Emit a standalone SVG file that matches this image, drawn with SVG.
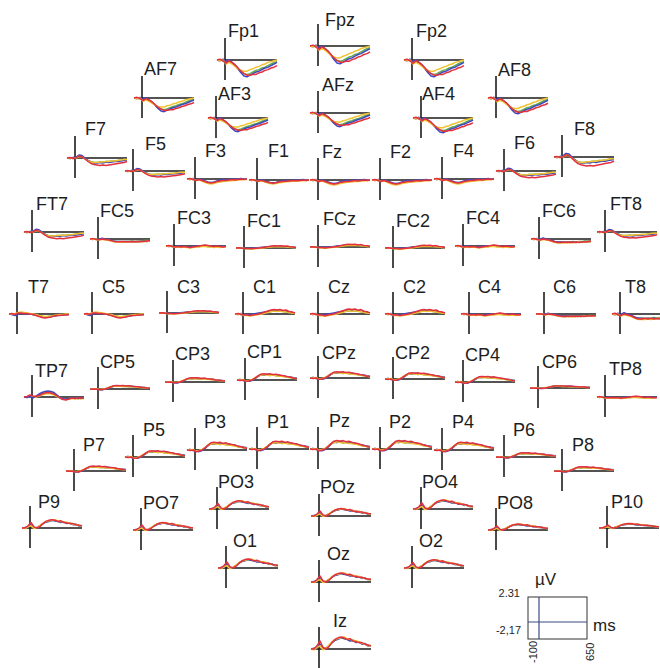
<svg xmlns="http://www.w3.org/2000/svg" xmlns:xlink="http://www.w3.org/1999/xlink" width="660" height="668" viewBox="0 0 660 668">
<style>
text{font-family:"Liberation Sans",Arial,sans-serif;font-size:18px;fill:#1e1e1e}
.v{stroke:#4a4a4a;stroke-width:2}
.h{stroke:#1a1a1a;stroke-width:1.3}
polyline{fill:none;stroke-width:1.5;stroke-linejoin:round;vector-effect:non-scaling-stroke}
.b{stroke:#4048c0}.r{stroke:#e2303e}.y{stroke:#f0c232}.g{stroke:#62ac4c}
.sm{font-size:11px}
</style>
<defs>
<g id="ax"><line class="v" x1="0" y1="-22" x2="0" y2="20"/><line class="h" x1="-8" y1="0" x2="52" y2="0"/></g>
<g id="neg">
<polyline class="g" points="-8,0 -5,0 -2,0.5 1,1.5 4,0.5 7,2 10,3.5 13,5.5 16,7.5 19,8.5 22,9 25,8.5 28,7.5 31,6.5 34,6 37,5 40,4.5 43,3.5 46,2.5 49,1.5 52,1"/>
<polyline class="b" points="-8,0 -5,0.5 -2,-0.5 1,1 4,0 7,1.5 10,3 13,5.5 16,8 19,10 22,10.5 25,9.5 28,8.5 31,7.5 34,7 37,6 40,5 43,4.5 46,3.5 49,2.5 52,1.5"/>
<polyline class="y" points="-8,0 -5,0.5 -2,0 1,2.5 4,1.5 7,2.5 10,4 13,5.5 16,6.5 19,7 22,7 25,6 28,5.5 31,4.5 34,4 37,3 40,2.5 43,1.5 46,1 49,0.5 52,0"/>
<polyline class="r" points="-8,0 -5,-0.5 -2,0.5 1,2 4,0.5 7,1.5 10,3 13,5 16,7 19,8.5 22,9.5 25,9.5 28,9 31,9 34,8 37,7.5 40,6.5 43,6 46,5 49,4.5 52,3.5"/>
</g>
<g id="negL">
<polyline class="g" points="-8,0 -5,0.5 -2,0 1,0.5 4,-2 7,-1.5 10,0.5 13,2.5 16,4 19,4.5 22,4.5 25,4 28,4 31,3.5 34,3.5 37,3 40,3 43,2.5 46,2 49,1.5 52,1.5"/>
<polyline class="b" points="-8,0 -5,0.5 -2,-0.5 1,-1 4,-3 7,-2.5 10,0 13,2.5 16,4 19,5 22,5 25,4.5 28,5 31,4 34,4.5 37,4 40,3.5 43,3.5 46,3 49,2.5 52,2"/>
<polyline class="y" points="-8,0 -5,0 -2,0.5 1,0 4,-1.5 7,-1 10,1 13,3 16,4 19,4.5 22,4.5 25,4 28,4 31,3.5 34,3.5 37,3 40,3 43,2.5 46,2 49,1.5 52,1.5"/>
<polyline class="r" points="-8,0 -5,-0.5 -2,0.5 1,0 4,-2 7,-1 10,1 13,3.5 16,5.5 19,6.5 22,7 25,7.5 28,7 31,7.5 34,7 37,6.5 40,6 43,5.5 46,5 49,4.5 52,3.5"/>
</g>
<g id="negS">
<polyline class="g" points="-8,0 -5,0 -2,0.5 1,1 4,0.5 7,1.5 10,2.5 13,3.5 16,4 19,3.5 22,2.5 25,2 28,1.5 31,1.5 34,1 37,1 40,0.5 43,0.5 46,0 49,0 52,0"/>
<polyline class="b" points="-8,0 -5,0.5 -2,-0.5 1,1 4,0 7,1 10,2 13,3 16,3.5 19,3 22,2 25,1 28,0.5 31,1 34,0.5 37,0 40,0.5 43,0 46,-0.5 49,0 52,0"/>
<polyline class="y" points="-8,0 -5,0.5 -2,0 1,1.5 4,1 7,2 10,3.5 13,4.5 16,5 19,4.5 22,3.5 25,3 28,2.5 31,2 34,2 37,1.5 40,1.5 43,1 46,1 49,0.5 52,0.5"/>
<polyline class="r" points="-8,0 -5,-0.5 -2,0.5 1,1.5 4,0.5 7,1.5 10,2.5 13,3.5 16,4 19,3.5 22,2.5 25,2 28,1.5 31,1.5 34,1 37,0.5 40,1 43,0.5 46,0 49,0.5 52,0"/>
</g>
<g id="flat">
<polyline class="g" points="-8,0 -5,0 -2,0.5 1,1 4,0.5 7,1 10,1 13,1 16,1.5 19,1 22,0.5 25,0.5 28,0 31,0 34,0.5 37,0.5 40,1 43,0.5 46,1 49,0.5 52,0.5"/>
<polyline class="b" points="-8,0 -5,0.5 -2,-0.5 1,1 4,0 7,0.5 10,1 13,0.5 16,1 19,0.5 22,0 25,0.5 28,0 31,-0.5 34,0 37,0.5 40,0 43,0.5 46,0 49,0.5 52,0"/>
<polyline class="y" points="-8,0 -5,0.5 -2,0 1,1.5 4,1 7,1.5 10,1 13,1.5 16,2 19,1.5 22,1 25,1 28,0.5 31,0.5 34,1 37,1 40,1.5 43,1 46,1.5 49,1 52,1"/>
<polyline class="r" points="-8,0 -5,-0.5 -2,0.5 1,1 4,0.5 7,1 10,0.5 13,1 16,1.5 19,1 22,0.5 25,0 28,-0.5 31,-1 34,-0.5 37,0 40,0.5 43,0 46,0.5 49,1 52,0.5"/>
</g>
<g id="flatDip">
<polyline class="g" points="-8,0 -5,0 -2,0.5 1,0.5 4,-0.5 7,0.5 10,1 13,2 16,3 19,3 22,3 25,3 28,3 31,3 34,2.5 37,3 40,2.5 43,2.5 46,2 49,2 52,2"/>
<polyline class="b" points="-8,0 -5,0.5 -2,-0.5 1,0.5 4,-1 7,0 10,0.5 13,1.5 16,2.5 19,3 22,3 25,3.5 28,3 31,3.5 34,3 37,3.5 40,3 43,3 46,2.5 49,3 52,2.5"/>
<polyline class="y" points="-8,0 -5,0.5 -2,0 1,1.5 4,0.5 7,1 10,1.5 13,2.5 16,3.5 19,4 22,4 25,4 28,3.5 31,4 34,3.5 37,3.5 40,3 43,3.5 46,3 49,3 52,2.5"/>
<polyline class="r" points="-8,0 -5,-0.5 -2,0.5 1,1 4,0 7,0.5 10,1 13,2 16,3 19,3.5 22,3.5 25,3 28,3.5 31,3 34,3.5 37,3 40,3.5 43,3 46,3 49,2.5 52,2"/>
</g>
<g id="posC">
<polyline class="g" points="-8,0 -5,0 -2,0.5 1,1 4,1 7,1 10,0.5 13,0 16,-0.5 19,-1 22,-1.5 25,-2 28,-2.5 31,-3 34,-3 37,-3 40,-2.5 43,-2 46,-1.5 49,-1 52,-0.5"/>
<polyline class="b" points="-8,0 -5,0.5 -2,-0.5 1,1 4,0.5 7,0.5 10,0 13,-0.5 16,-1 19,-1.5 22,-2 25,-2.5 28,-3 31,-3.5 34,-3 37,-3.5 40,-3 43,-2.5 46,-2 49,-1.5 52,-1"/>
<polyline class="y" points="-8,0 -5,0.5 -2,0 1,1.5 4,1.5 7,2 10,1.5 13,1 16,0.5 19,0 22,-1 25,-1.5 28,-2.5 31,-3 34,-2.5 37,-3 40,-2.5 43,-2 46,-1.5 49,-1 52,-0.5"/>
<polyline class="r" points="-8,0 -5,-0.5 -2,0.5 1,1 4,1 7,1.5 10,1 13,0.5 16,0 19,-1 22,-2 25,-3 28,-4 31,-4.5 34,-4 37,-4.5 40,-3.5 43,-4 46,-2.5 49,-2 52,-1"/>
</g>
<g id="tDip">
<polyline class="g" points="-8,0 -5,0.5 -2,0 1,-1 4,-1 7,-1 10,-0.5 13,0 16,0.5 19,1 22,2 25,2.5 28,3 31,2.5 34,2 37,1.5 40,1.5 43,1 46,0.5 49,0.5 52,0.5"/>
<polyline class="b" points="-8,0 -5,0.5 -2,1.5 1,0 4,-0.5 7,-0.5 10,0 13,0 16,0.5 19,1 22,2 25,2.5 28,3 31,3 34,2.5 37,2 40,1.5 43,1 46,1 49,0.5 52,0.5"/>
<polyline class="y" points="-8,0 -5,0 -2,-0.5 1,-1.5 4,-2 7,-1.5 10,-1 13,-0.5 16,0 19,0.5 22,1.5 25,2 28,2.5 31,2.5 34,2 37,1.5 40,1 43,0.5 46,0.5 49,0 52,0"/>
<polyline class="r" points="-8,0 -5,-0.5 -2,0.5 1,-1 4,-1 7,-0.5 10,-0.5 13,0 16,0.5 19,1.5 22,2.5 25,3.5 28,4 31,3.5 34,3 37,2 40,1.5 43,1.5 46,1 49,1 52,0.5"/>
</g>
<g id="tp">
<polyline class="g" points="-8,0 -5,0.5 -2,-0.5 1,0.5 4,0 7,-1.5 10,-3 13,-4 16,-4.5 19,-4 22,-3 25,-1 28,0.5 31,2 34,2 37,1.5 40,1 43,1 46,1 49,1 52,1"/>
<polyline class="y" points="-8,0 -5,0 -2,-1 1,0 4,0 7,-1 10,-2 13,-3 16,-3.5 19,-3 22,-2 25,-0.5 28,1 31,2 34,2.5 37,2 40,1.5 43,2 46,1.5 49,2 52,1.5"/>
<polyline class="b" points="-8,0 -5,0.5 -2,-0.5 1,1 4,-1 7,-3 10,-4.5 13,-5.5 16,-6 19,-5.5 22,-4.5 25,-2 28,0.5 31,2 34,2 37,1.5 40,1 43,1 46,1.5 49,1 52,1"/>
<polyline class="r" points="-8,0 -5,-0.5 -2,-2 1,-1 4,-0.5 7,-1.5 10,-3 13,-4 16,-4.5 19,-4 22,-3 25,-1 28,1 31,2.5 34,3 37,2 40,1 43,1.5 46,1 49,1 52,0.5"/>
</g>
<g id="pos">
<polyline class="g" points="-8,0 -5,-0.5 -2,0 1,1 4,1 7,0 10,-2 13,-4 16,-5.5 19,-5.5 22,-6 25,-5 28,-5.5 31,-5 34,-4.5 37,-4.5 40,-4 43,-3 46,-2.5 49,-2 52,-1.5"/>
<polyline class="b" points="-8,0 -5,-0.5 -2,0.5 1,1 4,1.5 7,0.5 10,-1.5 13,-4 16,-6 19,-5.5 22,-6.5 25,-5.5 28,-6 31,-5 34,-5.5 37,-4.5 40,-4 43,-3.5 46,-3 49,-2.5 52,-2"/>
<polyline class="y" points="-8,0 -5,0 -2,-0.5 1,1 4,0.5 7,-0.5 10,-2.5 13,-4.5 16,-5.5 19,-6 22,-5.5 25,-5 28,-5.5 31,-4.5 34,-4.5 37,-4 40,-3.5 43,-3 46,-2.5 49,-2 52,-1.5"/>
<polyline class="r" points="-8,0 -5,0.5 -2,0 1,1.5 4,1 7,0 10,-2 13,-4.5 16,-6.5 19,-7 22,-6.5 25,-7 28,-6 31,-6.5 34,-5.5 37,-5 40,-4.5 43,-3.5 46,-3 49,-2 52,-1.5"/>
</g>
<g id="po">
<polyline class="g" points="-8,0 -5,0 -2,-1 1,-2.5 4,0 7,-0.5 10,-2 13,-4 16,-5.5 19,-6.5 22,-7 25,-6.5 28,-6 31,-5.5 34,-5 37,-5 40,-4 43,-3.5 46,-3 49,-2 52,-2"/>
<polyline class="b" points="-8,0 -5,-0.5 -2,-1 1,-3 4,0 7,-0.5 10,-2 13,-4 16,-5.5 19,-6 22,-7 25,-6.5 28,-6 31,-5 34,-5.5 37,-4 40,-4.5 43,-3 46,-3.5 49,-2 52,-2"/>
<polyline class="y" points="-8,0 -5,0.5 -2,-1 1,-2 4,0.5 7,-0.5 10,-2.5 13,-4.5 16,-6 19,-6.5 22,-7 25,-7.5 28,-6.5 31,-6 34,-5.5 37,-5 40,-4.5 43,-3.5 46,-3 49,-2.5 52,-1.5"/>
<polyline class="r" points="-8,0 -5,0 -2,-2 1,-5 4,-1 7,0 10,-1.5 13,-4 16,-6 19,-7 22,-7.5 25,-7 28,-6 31,-6.5 34,-5 37,-4.5 40,-4 43,-4 46,-3 49,-2.5 52,-2"/>
</g>
</defs>
<g id="nodes">
<g id="Fp1" transform="translate(225,60)"><use href="#ax"/><use href="#neg" transform="scale(1,1.6)"/><text x="3" y="-23">Fp1</text></g>
<g id="Fpz" transform="translate(318,46)"><use href="#ax"/><use href="#neg" transform="scale(1,1.7)"/><text x="7" y="-20">Fpz</text></g>
<g id="Fp2" transform="translate(412,60)"><use href="#ax"/><use href="#neg" transform="scale(1,1.6)"/><text x="4" y="-23">Fp2</text></g>
<g id="AF7" transform="translate(142,98)"><use href="#ax"/><use href="#neg" transform="scale(1,1.3)"/><text x="2" y="-23">AF7</text></g>
<g id="AF3" transform="translate(216,118)"><use href="#ax"/><use href="#neg" transform="scale(1,1.3)"/><text x="2" y="-18">AF3</text></g>
<g id="AFz" transform="translate(318,113)"><use href="#ax"/><use href="#neg" transform="scale(1,1.3)"/><text x="4" y="-22">AFz</text></g>
<g id="AF4" transform="translate(421,118)"><use href="#ax"/><use href="#neg" transform="scale(1,1.4)"/><text x="1" y="-18">AF4</text></g>
<g id="AF8" transform="translate(496,98)"><use href="#ax"/><use href="#neg" transform="scale(1,1.5)"/><text x="2" y="-22">AF8</text></g>
<g id="F7" transform="translate(75,158)"><use href="#ax"/><use href="#negL"/><text x="10" y="-23">F7</text></g>
<g id="F5" transform="translate(133,171)"><use href="#ax"/><use href="#negL" transform="scale(1,0.8)"/><text x="12" y="-21">F5</text></g>
<g id="F3" transform="translate(195,179)"><use href="#ax"/><use href="#negS"/><text x="10" y="-22">F3</text></g>
<g id="F1" transform="translate(257,180)"><use href="#ax"/><use href="#negS" transform="scale(1,0.8)"/><text x="11" y="-23">F1</text></g>
<g id="Fz" transform="translate(318,180)"><use href="#ax"/><use href="#negS"/><text x="4" y="-22">Fz</text></g>
<g id="F2" transform="translate(380,180)"><use href="#ax"/><use href="#negS"/><text x="10" y="-22">F2</text></g>
<g id="F4" transform="translate(442,179)"><use href="#ax"/><use href="#negS"/><text x="11" y="-22">F4</text></g>
<g id="F6" transform="translate(504,171)"><use href="#ax"/><use href="#negL" transform="scale(1,0.9)"/><text x="10" y="-22">F6</text></g>
<g id="F8" transform="translate(562,157)"><use href="#ax"/><use href="#negL" transform="scale(1,1.2)"/><text x="12" y="-22">F8</text></g>
<g id="FT7" transform="translate(32,232)"><use href="#ax"/><use href="#negL" transform="scale(1,0.9)"/><text x="4" y="-22">FT7</text></g>
<g id="FC5" transform="translate(98,239)"><use href="#ax"/><use href="#flatDip" transform="scale(1,0.8)"/><text x="2" y="-22">FC5</text></g>
<g id="FC3" transform="translate(174,246)"><use href="#ax"/><use href="#flat"/><text x="3" y="-22">FC3</text></g>
<g id="FC1" transform="translate(244,248)"><use href="#ax"/><use href="#posC" transform="scale(1,0.5)"/><text x="3" y="-21">FC1</text></g>
<g id="FCz" transform="translate(318,247)"><use href="#ax"/><use href="#posC" transform="scale(1,0.6)"/><text x="5" y="-22">FCz</text></g>
<g id="FC2" transform="translate(393,248)"><use href="#ax"/><use href="#posC" transform="scale(1,0.6)"/><text x="3" y="-21">FC2</text></g>
<g id="FC4" transform="translate(463,246)"><use href="#ax"/><use href="#flat"/><text x="3" y="-22">FC4</text></g>
<g id="FC6" transform="translate(539,239)"><use href="#ax"/><use href="#flatDip"/><text x="3" y="-22">FC6</text></g>
<g id="FT8" transform="translate(605,232)"><use href="#ax"/><use href="#negL" transform="scale(1,0.8)"/><text x="5" y="-22">FT8</text></g>
<g id="T7" transform="translate(17,314)"><use href="#ax"/><use href="#tDip"/><text x="11" y="-21">T7</text></g>
<g id="C5" transform="translate(92,314)"><use href="#ax"/><use href="#tDip"/><text x="10" y="-21">C5</text></g>
<g id="C3" transform="translate(167,313)"><use href="#ax"/><use href="#posC" transform="scale(1,0.5)"/><text x="10" y="-20">C3</text></g>
<g id="C1" transform="translate(243,314)"><use href="#ax"/><use href="#posC"/><text x="10" y="-21">C1</text></g>
<g id="Cz" transform="translate(318,314)"><use href="#ax"/><use href="#posC" transform="scale(1,1.1)"/><text x="10" y="-21">Cz</text></g>
<g id="C2" transform="translate(393,314)"><use href="#ax"/><use href="#posC"/><text x="10" y="-21">C2</text></g>
<g id="C4" transform="translate(469,314)"><use href="#ax"/><use href="#flat"/><text x="9" y="-21">C4</text></g>
<g id="C6" transform="translate(544,314)"><use href="#ax"/><use href="#flatDip" transform="scale(1,0.7)"/><text x="9" y="-21">C6</text></g>
<g id="T8" transform="translate(620,314)"><use href="#ax"/><use href="#flatDip" transform="scale(1,1.4)"/><text x="5" y="-21">T8</text></g>
<g id="TP7" transform="translate(32,397)"><use href="#ax"/><use href="#tp"/><text x="3" y="-20">TP7</text></g>
<g id="CP5" transform="translate(98,389)"><use href="#ax"/><use href="#pos" transform="scale(1,0.5)"/><text x="2" y="-21">CP5</text></g>
<g id="CP3" transform="translate(173,382)"><use href="#ax"/><use href="#pos" transform="scale(1,0.6)"/><text x="2" y="-22">CP3</text></g>
<g id="CP1" transform="translate(245,380)"><use href="#ax"/><use href="#pos" transform="scale(1,0.9)"/><text x="2" y="-22">CP1</text></g>
<g id="CPz" transform="translate(318,378)"><use href="#ax"/><use href="#pos" transform="scale(1,0.9)"/><text x="4" y="-19">CPz</text></g>
<g id="CP2" transform="translate(393,379)"><use href="#ax"/><use href="#pos" transform="scale(1,0.9)"/><text x="2" y="-20">CP2</text></g>
<g id="CP4" transform="translate(463,382)"><use href="#ax"/><use href="#pos" transform="scale(1,0.8)"/><text x="2" y="-21">CP4</text></g>
<g id="CP6" transform="translate(538,388)"><use href="#ax"/><use href="#pos" transform="scale(1,0.3)"/><text x="4" y="-20">CP6</text></g>
<g id="TP8" transform="translate(605,397)"><use href="#ax"/><use href="#flat" transform="scale(1,0.8)"/><text x="4" y="-22">TP8</text></g>
<g id="P7" transform="translate(74,471)"><use href="#ax"/><use href="#pos" transform="scale(1,0.7)"/><text x="9" y="-20">P7</text></g>
<g id="P5" transform="translate(133,457)"><use href="#ax"/><use href="#pos" transform="scale(1,0.9)"/><text x="10" y="-21">P5</text></g>
<g id="P3" transform="translate(195,450)"><use href="#ax"/><use href="#pos" transform="scale(1,1.1)"/><text x="9" y="-22">P3</text></g>
<g id="P1" transform="translate(257,449)"><use href="#ax"/><use href="#pos" transform="scale(1,1.1)"/><text x="10" y="-21">P1</text></g>
<g id="Pz" transform="translate(318,449)"><use href="#ax"/><use href="#pos" transform="scale(1,1.2)"/><text x="11" y="-22">Pz</text></g>
<g id="P2" transform="translate(380,449)"><use href="#ax"/><use href="#pos" transform="scale(1,1.2)"/><text x="9" y="-21">P2</text></g>
<g id="P4" transform="translate(442,450)"><use href="#ax"/><use href="#pos" transform="scale(1,1.1)"/><text x="10" y="-22">P4</text></g>
<g id="P6" transform="translate(504,457)"><use href="#ax"/><use href="#pos" transform="scale(1,0.6)"/><text x="9" y="-21">P6</text></g>
<g id="P8" transform="translate(562,471)"><use href="#ax"/><use href="#pos" transform="scale(1,0.6)"/><text x="10" y="-20">P8</text></g>
<g id="P9" transform="translate(30,528)"><use href="#ax"/><use href="#po" transform="scale(1,1.1)"/><text x="8" y="-20">P9</text></g>
<g id="PO7" transform="translate(141,530)"><use href="#ax"/><use href="#po"/><text x="2" y="-21">PO7</text></g>
<g id="PO3" transform="translate(217,509)"><use href="#ax"/><use href="#po" transform="scale(1,1.1)"/><text x="1" y="-21">PO3</text></g>
<g id="POz" transform="translate(319,516)"><use href="#ax"/><use href="#po"/><text x="1" y="-23">POz</text></g>
<g id="PO4" transform="translate(421,509)"><use href="#ax"/><use href="#po" transform="scale(1,1.2)"/><text x="1" y="-21">PO4</text></g>
<g id="PO8" transform="translate(496,530)"><use href="#ax"/><use href="#po" transform="scale(1,0.8)"/><text x="1" y="-21">PO8</text></g>
<g id="P10" transform="translate(607,528)"><use href="#ax"/><use href="#po" transform="scale(1,0.6)"/><text x="4" y="-20">P10</text></g>
<g id="O1" transform="translate(226,568)"><use href="#ax"/><use href="#po" transform="scale(1,1.2)"/><text x="7" y="-21">O1</text></g>
<g id="Oz" transform="translate(319,582)"><use href="#ax"/><use href="#po" transform="scale(1,1.2)"/><text x="8" y="-22">Oz</text></g>
<g id="O2" transform="translate(412,568)"><use href="#ax"/><use href="#po" transform="scale(1,1.1)"/><text x="7" y="-21">O2</text></g>
<g id="Iz" transform="translate(319,649)"><use href="#ax"/><use href="#po" transform="scale(1,1.6)"/><text x="14" y="-22">Iz</text></g>
</g>
<g id="connectors"></g>
<g id="scale">
<rect x="528" y="597" width="59" height="42" fill="none" stroke="#333" stroke-width="1"/>
<line x1="539" y1="597" x2="539" y2="639" stroke="#3c4a86" stroke-width="1.2"/>
<line x1="528" y1="622" x2="587" y2="622" stroke="#3c4a86" stroke-width="1.2"/>
<text x="535" y="585" style="font-size:17px">µV</text>
<text x="593" y="631" style="font-size:17px">ms</text>
<text class="sm" x="520" y="597" text-anchor="end">2.31</text>
<text class="sm" x="521" y="634" text-anchor="end">-2,17</text>
<text class="sm" transform="translate(537,663) rotate(-90)">-100</text>
<text class="sm" transform="translate(594,661) rotate(-90)">650</text>
</g>
</svg>
